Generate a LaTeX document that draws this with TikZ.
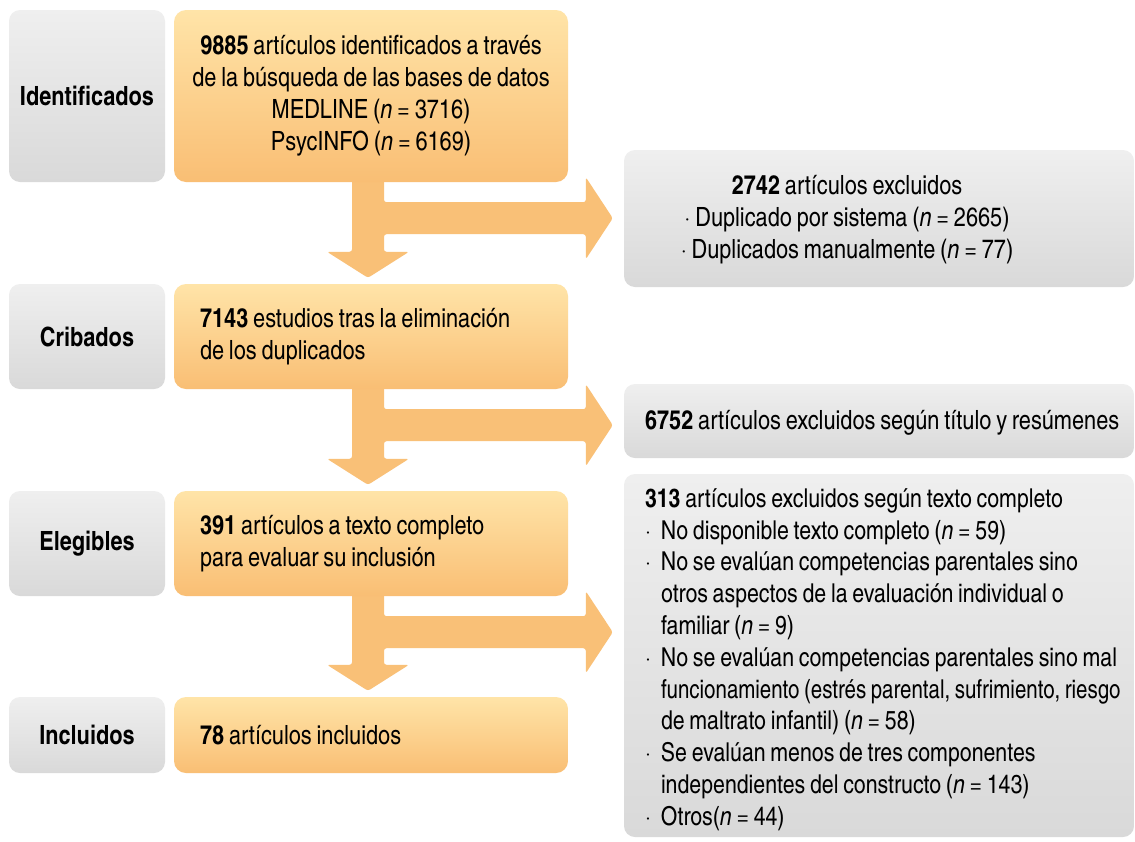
\documentclass[tikz,border=0pt]{standalone}
\usepackage{graphicx}
\usepackage{fontspec}
\setmainfont{texgyreheroscn}[Extension=.otf, UprightFont=*-regular, BoldFont=*-bold, ItalicFont=*-italic, BoldItalicFont=*-bolditalic, WordSpace=0.8]
\usetikzlibrary{calc,backgrounds}
\definecolor{graytop}{HTML}{EFEFEF}
\definecolor{graybot}{HTML}{D9D9D9}
\definecolor{orgtop}{HTML}{FFE4A8}
\definecolor{orgbot}{HTML}{F9BE74}
\definecolor{arrowc}{HTML}{F9C077}
\newcommand{\bulitem}{\makebox[16pt][l]{·}}
\newcommand{\contitem}{\hspace*{16pt}}
\newcommand{\flowarrow}[3]{%
  \fill[arrowc, rounded corners=2.5pt]
    ($(#1.south)+(-19,-6)$) -- ($(#1.south)+(13,-6)$) -- ($(#1.south)+(13,20)$)
    -- ($(#1.south -| #3.west)+(-38,20)$) -- ($(#1.south -| #3.west)+(-38,-5)$)
    -- ($(#1.south -| #3.west)+(-11,36)$) -- ($(#1.south -| #3.west)+(-38,77)$)
    -- ($(#1.south -| #3.west)+(-38,52)$) -- ($(#1.south)+(13,52)$)
    -- ($(#2.north)+(13,-32)$) -- ($(#2.north)+(38,-32)$) -- ($(#2.north)+(-3,-6)$)
    -- ($(#2.north)+(-44,-32)$) -- ($(#2.north)+(-19,-32)$) -- cycle;}
\begin{document}
\begin{tikzpicture}[x=1pt,y=-1pt,
  every node/.style={font=\fontsize{26.5}{32}\selectfont, inner sep=0pt},
  stagebox/.style={top color=graytop, bottom color=graybot, rounded corners=11pt,
    minimum width=156pt, font=\fontsize{26.5}{32}\selectfont\bfseries},
  orgbox/.style={top color=orgtop, bottom color=orgbot, rounded corners=12pt,
    minimum width=394pt},
  orgleft/.style={orgbox, text width=342pt, inner xsep=26pt, align=left},
  exclbox/.style={top color=graytop, bottom color=graybot, rounded corners=11pt,
    minimum width=510pt},
  txt/.style={inner sep=0pt}]
\useasboundingbox (0,0) rectangle (1135,841);
% stage labels
\node[stagebox, minimum height=172pt] (g1) at (87,96) {Identificados};
\node[stagebox, minimum height=105pt] (g2) at (87,336.5) {Cribados};
\node[stagebox, minimum height=105pt] (g3) at (87,543.5) {Elegibles};
\node[stagebox, minimum height=76pt] (g4) at (87,735) {Incluidos};
% main boxes
\node[orgbox, minimum height=172pt, align=center] (o1) at (371,96)
  {\textbf{9885} artículos identificados a través\\de la búsqueda de las bases de datos\\MEDLINE (\textit{n} = 3716)\\PsycINFO (\textit{n} = 6169)};
\node[orgleft, minimum height=105pt] (o2) at (371,336.5)
  {\spaceskip=0pt\xspaceskip=0pt\relax\textbf{7143} estudios tras la eliminación\\de los duplicados};
\node[orgleft, minimum height=105pt] (o3) at (371,543.5)
  {\spaceskip=0pt\xspaceskip=0pt\relax\textbf{391} artículos a texto completo\\para evaluar su inclusión};
\node[orgleft, minimum height=76pt] (o4) at (371,735)
  {\spaceskip=0pt\xspaceskip=0pt\relax\textbf{78} artículos incluidos};
% exclusion boxes
\node[exclbox, minimum height=137pt] (x1) at (879,218.5) {};
\node[exclbox, minimum height=74pt] (x2) at (879,421) {};
\node[exclbox, minimum height=363pt] (x3) at (879,655.5) {};
\node[txt, align=center] (t1) at (847,220)
  {\textbf{2742} artículos excluidos\\·\ Duplicado por sistema (\textit{n} = 2665)\\·\ Duplicados manualmente (\textit{n} = 77)};
\node[txt, anchor=west] (t2) at ($(x2.west)+(21,2)$)
  {\textbf{6752} artículos excluidos según título y resúmenes};
\node[txt, anchor=north west, align=left, font=\fontsize{26}{31.8}\selectfont] (t3) at ($(x3.north west)+(21,14.5)$)
  {\textbf{313} artículos excluidos según texto completo\\
   \bulitem No disponible texto completo (\textit{n} = 59)\\
   \bulitem No se evalúan competencias parentales sino\\
   \contitem otros aspectos de la evaluación individual o\\
   \contitem familiar (\textit{n} = 9)\\
   \bulitem No se evalúan competencias parentales sino mal\\
   \contitem\scalebox{0.96}[1]{funcionamiento (estrés parental, sufrimiento, riesgo}\\
   \contitem de maltrato infantil) (\textit{n} = 58)\\
   \bulitem Se evalúan menos de tres componentes\\
   \contitem independientes del constructo (\textit{n} = 143)\\
   \bulitem Otros(\textit{n} = 44)};
\begin{scope}[on background layer]
  \fill[white] (0,0) rectangle (1135,841);
  \flowarrow{o1}{o2}{x1}
  \flowarrow{o2}{o3}{x2}
  \flowarrow{o3}{o4}{x3}
\end{scope}
\end{tikzpicture}
\end{document}
